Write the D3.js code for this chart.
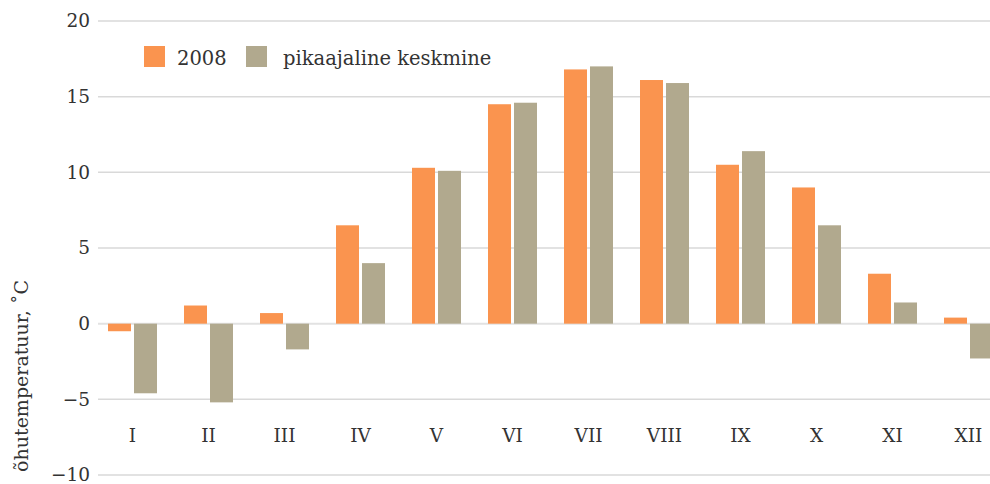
<!DOCTYPE html>
<html>
<head>
<meta charset="utf-8">
<script src="https://cdn.jsdelivr.net/npm/d3@7"></script>
<style>
  body { margin: 0; background: #fff; }
  text { font-family: "DejaVu Serif", serif; fill: #333; }
</style>
</head>
<body>
<div id="chart"></div>
<script>
// months and series values (air temperature, °C)
const months = ["I", "II", "III", "IV", "V", "VI", "VII", "VIII", "IX", "X", "XI", "XII"];
const year2008 = [-0.5, 1.2, 0.7, 6.5, 10.3, 14.5, 16.8, 16.1, 10.5, 9.0, 3.3, 0.4];
const longTerm = [-4.6, -5.2, -1.7, 4.0, 10.1, 14.6, 17.0, 15.9, 11.4, 6.5, 1.4, -2.3];
const seriesNames = ["2008", "pikaajaline keskmine"];
const seriesColors = ["#fa944f", "#b1a98e"];
const yTicks = [-10, -5, 0, 5, 10, 15, 20];

const width = 990, height = 484;

let svg = d3.select("#chart").append("svg")
    .attr("width", width)
    .attr("height", height);

let x = d3.scaleBand()
    .domain(months)
    .range([94.5, 94.5 + 76 * months.length]);

let x1 = d3.scaleBand()
    .domain(seriesNames)
    .range([13.5, 62.5])
    .paddingInner(2 - 49 / 26);

let y = d3.scaleLinear()
    .domain([-10, 20])
    .range([475, 21]);

// gridlines
svg.append("g")
    .selectAll("line")
    .data(yTicks)
    .enter().append("line")
    .attr("x1", 98)
    .attr("x2", width)
    .attr("y1", (d) => y(d))
    .attr("y2", (d) => y(d))
    .style("stroke", (d) => d === 0 ? "#e2e2e2" : "#d9d9d9")
    .style("stroke-width", (d) => d === 0 ? 2 : 1.5);

// y axis labels
let yAxis = svg.append("g")
    .attr("transform", "translate(90,0)")
    .call(d3.axisLeft(y).tickValues(yTicks).tickSize(0).tickPadding(0)
        .tickFormat((d) => d < 0 ? "\u2212" + Math.abs(d) : d));
yAxis.select(".domain").remove();
yAxis.selectAll("text")
    .style("font-size", "18.5px")
    .style("font-family", "DejaVu Serif, serif")
    .style("fill", "#333");

// x axis labels
let xAxis = svg.append("g")
    .attr("transform", "translate(0,429)")
    .call(d3.axisBottom(x).tickSize(0).tickPadding(0));
xAxis.select(".domain").remove();
xAxis.selectAll("text")
    .style("font-size", "18.5px")
    .style("font-family", "DejaVu Serif, serif")
    .style("fill", "#333");

// bars
let tableRows = months.map((m, i) => ({ month: m, values: [year2008[i], longTerm[i]] }));

let groups = svg.selectAll(".month")
    .data(tableRows)
    .enter().append("g")
    .attr("class", "month")
    .attr("transform", (d) => "translate(" + x(d.month) + ",0)");

groups.selectAll("rect")
    .data((d) => d.values.map((v, j) => ({ name: seriesNames[j], value: v, color: seriesColors[j] })))
    .enter().append("rect")
    .attr("x", (d) => x1(d.name))
    .attr("width", x1.bandwidth())
    .attr("y", (d) => y(Math.max(0, d.value)))
    .attr("height", (d) => Math.abs(y(d.value) - y(0)))
    .style("fill", (d) => d.color);

// legend
let legend = svg.append("g");
let legendX = [144, 246];
seriesNames.forEach((name, i) => {
    legend.append("rect")
        .attr("x", legendX[i])
        .attr("y", 46)
        .attr("width", 21)
        .attr("height", 21)
        .style("fill", seriesColors[i]);
    legend.append("text")
        .attr("x", legendX[i] + 33 + (i === 1 ? 4 : 0))
        .attr("y", 65)
        .style("font-size", "19.5px")
        .text(name);
});

// y title
svg.append("text")
    .attr("transform", "translate(28,376) rotate(-90)")
    .attr("text-anchor", "middle")
    .style("font-size", "19px")
    .text("õhutemperatuur, ˚C");
</script>
</body>
</html>
